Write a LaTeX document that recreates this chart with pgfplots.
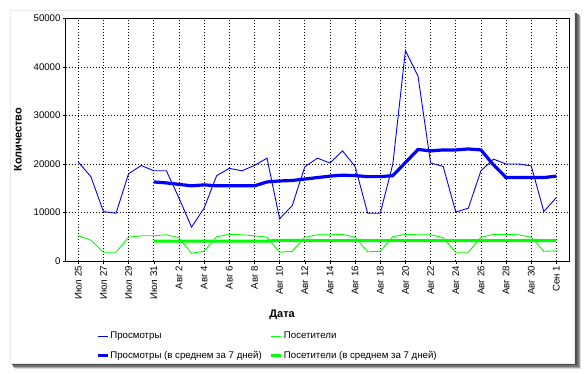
\documentclass[border=0pt]{standalone}
\usepackage{pgfplots}
\pgfplotsset{compat=1.18}
\usepackage{fontspec}
\setmainfont{Liberation Sans}
\definecolor{pblue}{RGB}{0,0,255}
\definecolor{pgreen}{RGB}{0,255,0}
\begin{document}
\begin{tikzpicture}
\useasboundingbox (0,0) rectangle (585bp,374bp);
% panel shadow
\fill[black!15] (15bp,5bp) rectangle (580.5bp,358bp);
\fill[black!35] (14bp,6bp) rectangle (579.5bp,359bp);
\fill[black!55] (13bp,7bp) rectangle (578.5bp,360bp);
\fill[black!70] (12bp,8.5bp) rectangle (577bp,361bp);
\fill[white] (10bp,11bp) rectangle (574bp,364bp);
\draw[black!8] (10bp,11bp) rectangle (574bp,364bp);
\begin{axis}[
  at={(65.7bp,113bp)}, anchor=south west,
  scale only axis, width=503.3bp, height=242.5bp,
  xmin=-1, xmax=39, ymin=0, ymax=50000,
  xtick={0,2,...,38},
  xticklabels={Июл 25,Июл 27,Июл 29,Июл 31,Авг 2,Авг 4,Авг 6,Авг 8,Авг 10,Авг 12,Авг 14,Авг 16,Авг 18,Авг 20,Авг 22,Авг 24,Авг 26,Авг 28,Авг 30,Сен 1},
  ytick={0,10000,20000,30000,40000,50000},
  scaled y ticks=false,
  /pgf/number format/1000 sep={},
  /pgf/number format/assume math mode=true,
  tick label style={font=\fontsize{9.7}{11}\selectfont},
  xticklabel style={rotate=90, anchor=east, inner sep=2bp},
  yticklabel style={inner sep=2bp},
  tick align=outside, major tick length=3bp,
  tick style={black, line width=0.5bp},
  xtick pos=bottom, ytick pos=left,
  grid=major,
  major grid style={black, line width=0.8bp, dash pattern=on 0.8bp off 2.2bp},
  axis line style={black, line width=1bp},
  xlabel={Дата}, ylabel={Количество},
  xlabel style={font=\bfseries\fontsize{11}{13}\selectfont, at={(axis description cs:0.43,-0.2226)}, anchor=center},
  ylabel style={font=\bfseries\fontsize{11}{13}\selectfont, at={(axis description cs:-0.0948,0.5)}, anchor=center, rotate=0},
  legend columns=2,
  legend cell align=left,
  legend image code/.code={\draw[#1] (0bp,0bp) -- (10bp,0bp);},
  legend style={at={(rel axis cs:0.0602,-0.2874)}, anchor=north west, draw=none, fill=none, inner sep=0pt,
    font=\fontsize{9.7}{11}\selectfont, row sep=9bp,
    nodes={inner sep=1bp},
    /tikz/every even column/.append style={column sep=7bp}},
]
\addplot[pblue, line width=0.9bp] coordinates {
(0,20400)(1,17400)(2,10200)(3,9850)(4,18000)(5,19700)(6,18600)(7,18600)(8,13000)(9,7000)
(10,10900)(11,17600)(12,19100)(13,18600)(14,19700)(15,21200)(16,8700)(17,11400)(18,19400)(19,21200)
(20,20200)(21,22700)(22,19500)(23,9850)(24,9850)(25,20000)(26,43400)(27,38100)(28,20200)(29,19500)
(30,10100)(31,10900)(32,18600)(33,21000)(34,20000)(35,20000)(36,19600)(37,10200)(38,13100)};
\addlegendentry{Просмотры}
\addplot[pgreen, line width=0.9bp] coordinates {
(0,5200)(1,4300)(2,1800)(3,1800)(4,4900)(5,5200)(6,5200)(7,5400)(8,4800)(9,1600)
(10,2000)(11,5000)(12,5500)(13,5400)(14,5200)(15,4900)(16,1800)(17,2000)(18,4900)(19,5400)
(20,5400)(21,5500)(22,4900)(23,1900)(24,2000)(25,5000)(26,5500)(27,5400)(28,5400)(29,4800)
(30,1800)(31,1800)(32,4900)(33,5500)(34,5500)(35,5400)(36,4900)(37,2000)(38,2100)};
\addlegendentry{Посетители}
\addplot[pblue, line width=3.2bp] coordinates {
(6,16300)(7,16100)(8,15800)(9,15500)(10,15700)(11,15500)(12,15500)(13,15500)(14,15500)(15,16300)
(16,16500)(17,16600)(18,16900)(19,17200)(20,17500)(21,17700)(22,17600)(23,17400)(24,17400)(25,17600)
(26,20300)(27,23000)(28,22700)(29,22900)(30,22900)(31,23100)(32,22900)(33,19800)(34,17200)(35,17200)
(36,17200)(37,17200)(38,17500)};
\addlegendentry{Просмотры (в среднем за 7 дней)}
\addplot[pgreen, line width=3.2bp] coordinates {
(6,4100)(7,4100)(8,4100)(9,4100)(10,4100)(11,4100)(12,4100)(13,4100)(14,4100)(15,4100)
(16,4250)(17,4250)(18,4200)(19,4200)(20,4200)(21,4200)(22,4200)(23,4200)(24,4200)(25,4200)
(26,4200)(27,4200)(28,4200)(29,4200)(30,4200)(31,4200)(32,4200)(33,4200)(34,4200)(35,4200)
(36,4200)(37,4200)(38,4200)};
\addlegendentry{Посетители (в среднем за 7 дней)}
\end{axis}
\end{tikzpicture}
\end{document}
